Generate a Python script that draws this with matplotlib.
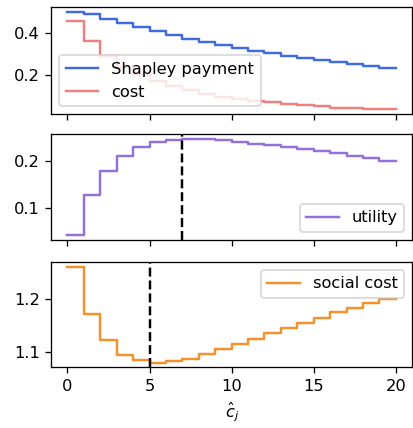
import numpy as np
import matplotlib
matplotlib.use("Agg")
import matplotlib.pyplot as plt

# valores por escalon, intervalo [k, k+1) para k = 0..19
shapley = [0.501, 0.491, 0.469, 0.450, 0.429, 0.410, 0.392, 0.374, 0.358, 0.342,
           0.328, 0.315, 0.304, 0.293, 0.282, 0.272, 0.262, 0.254, 0.245, 0.237]
costo = [0.460, 0.365, 0.290, 0.239, 0.199, 0.171, 0.148, 0.128, 0.112, 0.098,
         0.088, 0.079, 0.071, 0.064, 0.058, 0.052, 0.046, 0.043, 0.039, 0.037]
utilidad = [0.041, 0.126, 0.179, 0.211, 0.230, 0.239, 0.244, 0.246, 0.246, 0.244,
            0.240, 0.236, 0.233, 0.229, 0.224, 0.220, 0.216, 0.211, 0.206, 0.200]
costo_social = [1.261, 1.172, 1.1225, 1.0956, 1.0844, 1.0806, 1.083, 1.088, 1.097, 1.1056,
                1.1156, 1.125, 1.1356, 1.145, 1.1556, 1.165, 1.175, 1.183, 1.192, 1.1994]
c_opt_util = 7   # linea punteada panel medio
c_opt_social = 5  # linea punteada panel inferior


def escalon(valores):
    """Devuelve x, y para dibujar la serie como escalones hasta c=20."""
    x = np.arange(len(valores) + 1)
    y = list(valores) + [valores[-1]]
    return x, y


W, H = 413, 428
DPI = 117
fig = plt.figure(figsize=(W / DPI, H / DPI), dpi=DPI)

izq, der = 51 / W, 412.3 / W
cajas = [(7.3, 114.3), (134.3, 240.0), (261.7, 367.3)]  # (arriba, abajo) en px
ejes = []
for arriba, abajo in cajas:
    ax = fig.add_axes([izq, 1 - abajo / H, der - izq, (abajo - arriba) / H])
    ejes.append(ax)

ax1, ax2, ax3 = ejes

x, y = escalon(shapley)
ax1.plot(x, y, drawstyle='steps-post', color='royalblue', label='Shapley payment')
x, y = escalon(costo)
ax1.plot(x, y, drawstyle='steps-post', color='lightcoral', label='cost')
ax1.legend(loc='lower left')

x, y = escalon(utilidad)
ax2.plot(x, y, drawstyle='steps-post', color='mediumpurple', label='utility')
ax2.axvline(c_opt_util, color='k', linestyle='--')
ax2.legend(loc='lower right')

x, y = escalon(costo_social)
ax3.plot(x, y, drawstyle='steps-post', color='#f7902a', label='social cost')
ax3.axvline(c_opt_social, color='k', linestyle='--')
ax3.legend(loc='upper right')

for ax in ejes:
    ax.set_xlim(-1, 21)
    ax.set_xticks([0, 5, 10, 15, 20])
ax1.tick_params(labelbottom=False)
ax2.tick_params(labelbottom=False)
ax1.set_yticks([0.2, 0.4])
ax2.set_yticks([0.1, 0.2])
ax3.set_yticks([1.1, 1.2])
ax3.set_xlabel(r'$\hat{c}_j$')

fig.savefig('out.png', dpi=DPI)
